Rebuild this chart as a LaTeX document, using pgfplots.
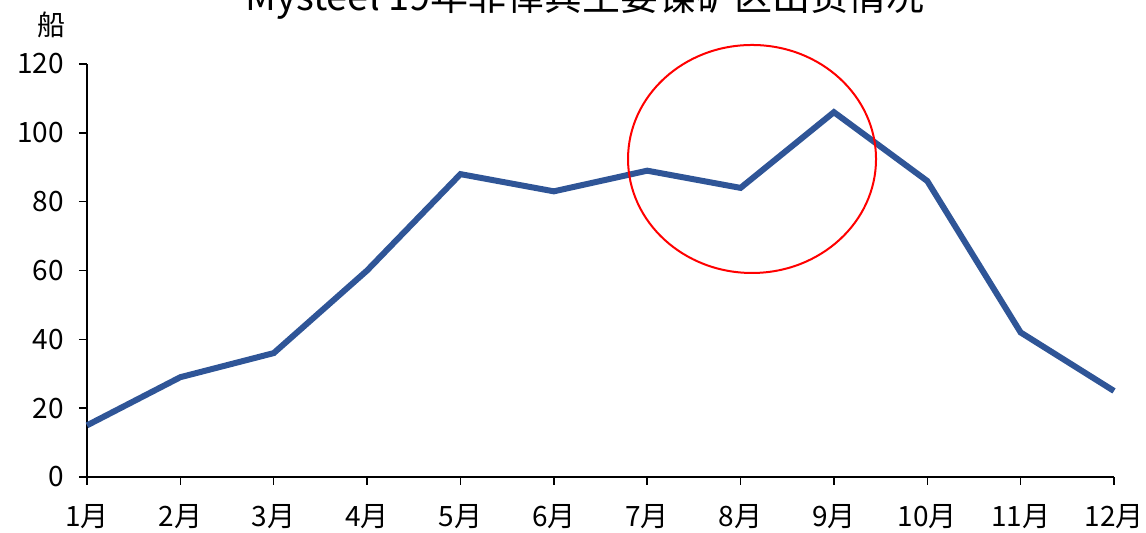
\documentclass[border=0pt]{standalone}
\usepackage{fontspec}
\usepackage{pgfplots}
\pgfplotsset{compat=1.18}
\setmainfont{Noto Sans CJK SC}

\definecolor{lineblue}{RGB}{47,85,151}

\begin{document}
\begin{tikzpicture}
\begin{axis}[
  scale only axis,
  width=513.5pt, height=206.5pt,
  at={(0pt,0pt)}, anchor=south west,
  xmin=1, xmax=12, ymin=0, ymax=120,
  axis lines=left,
  axis line style={black, line width=0.75pt, -},
  xtick={1,...,12},
  xticklabels={1月,2月,3月,4月,5月,6月,7月,8月,9月,10月,11月,12月},
  ytick={0,20,...,120},
  tick align=outside,
  major tick length=4pt,
  tick style={black, line width=0.75pt},
  /pgf/number format/assume math mode=true,
  ticklabel style={font=\fontsize{14}{16}\selectfont, black},
  xticklabel style={yshift=-6pt},
  yticklabel style={xshift=-4pt},
  clip=false,
]
\addplot[lineblue, line width=3pt, mark=none] coordinates {
  (1,15) (2,29) (3,36) (4,60) (5,88) (6,83)
  (7,89) (8,84) (9,106) (10,86) (11,42) (12,25)
};
% highlight around the Aug--Sep rise
\draw[red, line width=1pt] (axis cs:8.123,92.4) ellipse [x radius=62pt, y radius=57pt];
\end{axis}
\node[anchor=base, font=\fontsize{19}{21}\selectfont] at (249pt,233pt)
  {Mysteel 19年菲律宾主要镍矿区出货情况};
\node[font=\fontsize{14}{16}\selectfont] at (-17.5pt,226pt) {船};
\pgfresetboundingbox
\path[use as bounding box] (-43.5pt,-28pt) rectangle (529.5pt,238.5pt);
\end{tikzpicture}
\end{document}
